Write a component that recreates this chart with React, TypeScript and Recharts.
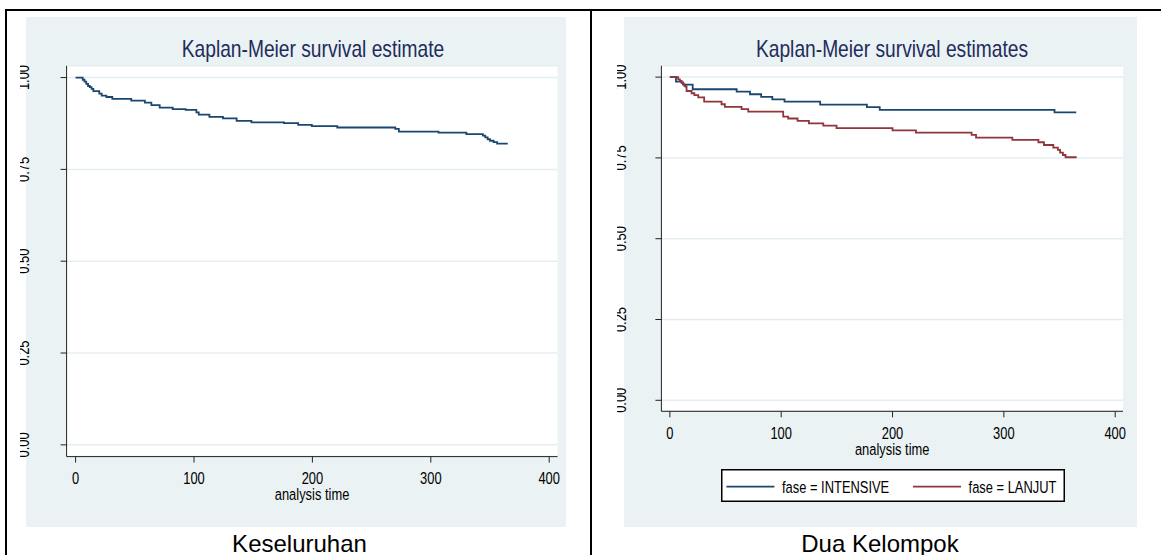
import { LineChart, Line, XAxis, YAxis, CartesianGrid, Legend } from "recharts";

// Kaplan-Meier step values (analysis time, survival)
const overallTime = [
  0, 6, 7.5, 9, 10.5, 12, 13.5, 15, 20, 22, 26, 31, 47, 58.5, 64, 71, 82, 93,
  102, 104, 113, 124.5, 136, 148.5, 176, 188, 199.5, 221, 270, 273, 306.5, 330,
  344, 346, 348, 350, 353, 356, 365,
];
const overallSurv = [
  1, 0.994, 0.989, 0.983, 0.977, 0.974, 0.969, 0.963, 0.956, 0.951, 0.947,
  0.942, 0.937, 0.932, 0.925, 0.918, 0.914, 0.912, 0.905, 0.899, 0.893, 0.889,
  0.882, 0.878, 0.876, 0.871, 0.868, 0.864, 0.86, 0.853, 0.85, 0.846, 0.842,
  0.837, 0.832, 0.828, 0.824, 0.82, 0.82,
];

const intensiveTime = [0, 5.5, 10.5, 12, 20.5, 60, 72, 82, 92, 103, 135, 177, 188.5, 345.5, 365];
const intensiveSurv = [
  1, 0.986, 0.983, 0.977, 0.9625, 0.955, 0.947, 0.939, 0.931, 0.924, 0.915,
  0.907, 0.8985, 0.891, 0.891,
];

const lanjutTime = [
  0, 7.5, 9, 10.5, 12, 13, 14, 15, 19.5, 22, 25.5, 30.8, 46.4, 49.4, 64.4, 70.4,
  101.8, 106.3, 114.7, 124.9, 137.8, 149.7, 200, 221, 271, 275, 307.6, 331, 336,
  344.4, 348.5, 350.5, 353, 355.4, 365.4,
];
const lanjutSurv = [
  1, 0.993, 0.988, 0.983, 0.978, 0.973, 0.971, 0.957, 0.95, 0.944, 0.937, 0.924,
  0.916, 0.908, 0.901, 0.893, 0.878, 0.872, 0.8645, 0.857, 0.85, 0.842, 0.835,
  0.828, 0.821, 0.813, 0.806, 0.7985, 0.79, 0.782, 0.775, 0.7665, 0.759, 0.752,
  0.752,
];

const xTicks = [0, 100, 200, 300, 400];
const yTicks = [0, 0.25, 0.5, 0.75, 1];

const NAVY = "#1a476f";
const MAROON = "#90353b";
const PANEL = "#eaf2f3";
const GRID = "#e4edf0";
const TITLE = "#1f2c5c";
const AXIS = "#222";
const FONT = '"Liberation Sans", Arial, Helvetica, sans-serif';
// Stata text in the figure looks horizontally squeezed
const SQUEEZE = 0.76;

const toRows = (times: number[], surv: number[]) =>
  times.map((t, i) => ({ t, s: surv[i] }));

const overallRows = toRows(overallTime, overallSurv);
const intensiveRows = toRows(intensiveTime, intensiveSurv);
const lanjutRows = toRows(lanjutTime, lanjutSurv);

/* eslint-disable @typescript-eslint/no-explicit-any */
function XTick({ x, y, payload }: any) {
  return (
    <text
      transform={`translate(${x},${y + 21.5}) scale(${SQUEEZE},1)`}
      textAnchor="middle"
      fontFamily={FONT}
      fontSize={17}
      fill="#000"
    >
      {payload.value}
    </text>
  );
}

// vertical y labels, reading bottom to top; the svg edge trims their tops
const makeYTick = (gap: number) =>
  function YTick({ x, y, payload }: any) {
    return (
      <text
        transform={`translate(${x + 6 - gap},${y}) rotate(-90) scale(${SQUEEZE},1)`}
        textAnchor="middle"
        fontFamily={FONT}
        fontSize={17}
        fill="#000"
      >
        {Number(payload.value).toFixed(2)}
      </text>
    );
  };

const axisTitle = (props: any) => {
  const { x, y, width } = props.viewBox;
  return (
    <text
      transform={`translate(${x + width / 2},${y + 43.4}) scale(${SQUEEZE},1)`}
      textAnchor="middle"
      fontFamily={FONT}
      fontSize={17}
      fill="#000"
    >
      analysis time
    </text>
  );
};

const renderLegend = (props: any) => {
  const items = props.payload || [];
  const slots = [5.4, 192];
  return (
    <svg width={344} height={33} style={{ display: "block" }}>
      <rect x={0.75} y={0.75} width={342.5} height={31.5} fill="#fff" stroke="#000" strokeWidth={1.5} />
      {items.map((item: any, i: number) => (
        <g key={item.value}>
          <line
            x1={slots[i]}
            x2={slots[i] + 48}
            y1={17.7}
            y2={17.7}
            stroke={item.color}
            strokeWidth={1.8}
          />
          <text
            transform={`translate(${slots[i] + 55.6},23.8) scale(${SQUEEZE},1)`}
            fontFamily={FONT}
            fontSize={17}
            fill="#000"
          >
            {item.value}
          </text>
        </g>
      ))}
    </svg>
  );
};
/* eslint-enable @typescript-eslint/no-explicit-any */

function Text({
  cx,
  baseline,
  size,
  scale,
  color,
  children,
}: {
  cx: number;
  baseline: number;
  size: number;
  scale: number;
  color: string;
  children: string;
}) {
  return (
    <div
      style={{
        position: "absolute",
        left: cx,
        top: baseline - 0.8465 * size,
        transform: `translateX(-50%) scaleX(${scale})`,
        fontFamily: FONT,
        fontSize: size,
        lineHeight: `${size}px`,
        color,
        whiteSpace: "nowrap",
      }}
    >
      {children}
    </div>
  );
}

function OverallChart() {
  return (
    <LineChart width={546} height={510} margin={{ top: 48.8, right: 8.5, bottom: 0, left: 0 }}>
      <CartesianGrid vertical={false} fill="#fff" stroke={GRID} strokeWidth={1.5} />
      <XAxis
        type="number"
        dataKey="t"
        domain={[-7.6, 407]}
        ticks={xTicks}
        allowDataOverflow
        height={70.4}
        tickSize={6}
        tickMargin={0}
        tick={XTick}
        axisLine={{ stroke: AXIS }}
        tickLine={{ stroke: AXIS }}
        label={{ content: axisTitle }}
      />
      <YAxis
        type="number"
        domain={[-0.032, 1.032]}
        ticks={yTicks}
        allowDataOverflow
        width={46.6}
        tickSize={6}
        tickMargin={0}
        tick={makeYTick(38)}
        axisLine={{ stroke: AXIS }}
        tickLine={{ stroke: AXIS }}
      />
      <Line
        data={overallRows}
        dataKey="s"
        type="stepAfter"
        stroke={NAVY}
        strokeWidth={1.8}
        dot={false}
        isAnimationActive={false}
      />
    </LineChart>
  );
}

function GroupChart() {
  return (
    <LineChart width={520} height={510} margin={{ top: 48.8, right: 14, bottom: 65.7, left: 0 }}>
      <CartesianGrid vertical={false} fill="#fff" stroke={GRID} strokeWidth={1.5} />
      <XAxis
        type="number"
        dataKey="t"
        domain={[-7.6, 407]}
        ticks={xTicks}
        allowDataOverflow
        height={50}
        tickSize={6}
        tickMargin={0}
        tick={XTick}
        axisLine={{ stroke: AXIS }}
        tickLine={{ stroke: AXIS }}
        label={{ content: axisTitle }}
      />
      <YAxis
        type="number"
        domain={[-0.034, 1.035]}
        ticks={yTicks}
        allowDataOverflow
        width={44.4}
        tickSize={6}
        tickMargin={0}
        tick={makeYTick(35)}
        axisLine={{ stroke: AXIS }}
        tickLine={{ stroke: AXIS }}
      />
      <Legend
        layout="horizontal"
        verticalAlign="middle"
        align="center"
        content={renderLegend}
        wrapperStyle={{ left: 103.6, top: 452, width: 344, height: 33 }}
      />
      <Line
        data={intensiveRows}
        name="fase = INTENSIVE"
        dataKey="s"
        type="stepAfter"
        stroke={NAVY}
        strokeWidth={1.8}
        dot={false}
        isAnimationActive={false}
      />
      <Line
        data={lanjutRows}
        name="fase = LANJUT"
        dataKey="s"
        type="stepAfter"
        stroke={MAROON}
        strokeWidth={1.8}
        dot={false}
        isAnimationActive={false}
      />
    </LineChart>
  );
}

export default function App() {
  return (
    <div
      style={{
        position: "absolute",
        left: 0,
        top: 0,
        width: 1161,
        height: 555,
        background: "#fff",
        overflow: "hidden",
      }}
    >
      {/* table borders */}
      <div style={{ position: "absolute", left: 5, top: 9, width: 1156, height: 2, background: "#000" }} />
      <div style={{ position: "absolute", left: 5, top: 9, width: 2, height: 546, background: "#000" }} />
      <div style={{ position: "absolute", left: 590, top: 9, width: 2, height: 546, background: "#000" }} />

      {/* graph regions */}
      <div style={{ position: "absolute", left: 26, top: 17, width: 540, height: 510, background: PANEL }} />
      <div style={{ position: "absolute", left: 624.4, top: 17, width: 512.6, height: 510, background: PANEL }} />

      <div style={{ position: "absolute", left: 20, top: 17 }}>
        <OverallChart />
      </div>
      <div style={{ position: "absolute", left: 617, top: 17 }}>
        <GroupChart />
      </div>

      <Text cx={312.6} baseline={57} size={24} scale={0.8} color={TITLE}>
        Kaplan-Meier survival estimate
      </Text>
      <Text cx={892.2} baseline={57} size={24} scale={0.8} color={TITLE}>
        Kaplan-Meier survival estimates
      </Text>

      <Text cx={299.5} baseline={552} size={24} scale={1} color="#000">
        Keseluruhan
      </Text>
      <Text cx={880} baseline={552} size={24} scale={1} color="#000">
        Dua Kelompok
      </Text>
    </div>
  );
}
